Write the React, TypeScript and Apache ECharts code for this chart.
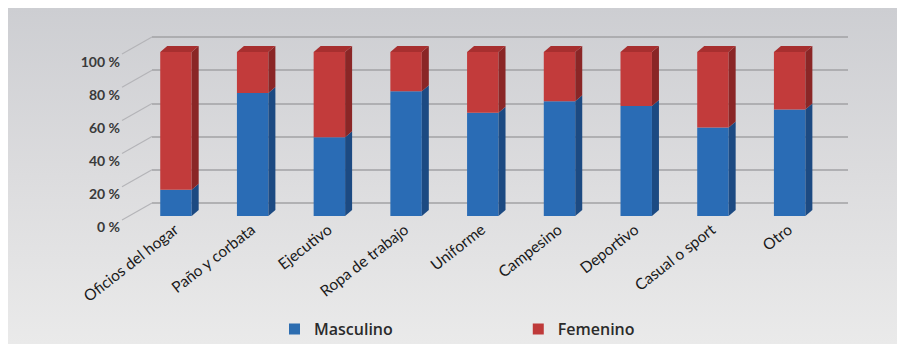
import React, { useEffect, useRef } from "react";
import * as echarts from "echarts";

// Prenda de vestir por sexo (porcentaje)
const categories = [
  "Oficios del hogar",
  "Paño y corbata",
  "Ejecutivo",
  "Ropa de trabajo",
  "Uniforme",
  "Campesino",
  "Deportivo",
  "Casual o sport",
  "Otro",
];
const masculino = [16, 75, 48, 76, 63, 70, 67, 54, 65];
const femenino = [84, 25, 52, 24, 37, 30, 33, 46, 35];
const percentTicks = [0, 20, 40, 60, 80, 100];

// depth of the extruded bars (px)
const DX = 7;
const DY = 6;

const BLUE = { front: "#2a6cb5", side: "#1c4a82", top: "#2f64a3" };
const RED = { front: "#c23b3b", side: "#8a2626", top: "#a72f2f" };

function makeBarRenderer(colors: { front: string; side: string; top: string }, drawTop: boolean) {
  return (params: any, api: any) => {
    const idx = api.value(0);
    const from = api.value(1);
    const to = api.value(2);
    const base = api.coord([idx, from]);
    const top = api.coord([idx, to]);
    const w = api.size([1, 0])[0] * 0.41;
    const xL = base[0] - w / 2;
    const xR = base[0] + w / 2;
    const children: any[] = [
      {
        type: "rect",
        shape: { x: xL, y: top[1], width: w, height: base[1] - top[1] },
        style: { fill: colors.front },
      },
      {
        type: "polygon",
        shape: {
          points: [
            [xR, top[1]],
            [xR + DX, top[1] - DY],
            [xR + DX, base[1] - DY],
            [xR, base[1]],
          ],
        },
        style: { fill: colors.side },
      },
    ];
    if (drawTop) {
      children.push({
        type: "polygon",
        shape: {
          points: [
            [xL, top[1]],
            [xL + DX, top[1] - DY],
            [xR + DX, top[1] - DY],
            [xR, top[1]],
          ],
        },
        style: { fill: colors.top },
      });
    }
    return { type: "group", children };
  };
}

export default function App() {
  const ref = useRef<HTMLDivElement>(null);

  useEffect(() => {
    document.documentElement.style.overflow = "hidden";
    const chart = echarts.init(ref.current!, undefined, { renderer: "svg" });

    const mascData = categories.map((_, i) => [i, 0, masculino[i]]);
    const femData = categories.map((_, i) => [i, masculino[i], masculino[i] + femenino[i]]);
    const wallTicks = percentTicks.map((v) => [0, v]);

    chart.setOption({
      animation: false,
      backgroundColor: new echarts.graphic.LinearGradient(0, 0, 0, 1, [
        { offset: 0, color: "#cdced2" },
        { offset: 0.5, color: "#dcdcde" },
        { offset: 1, color: "#eaeaea" },
      ]),
      legend: {
        data: ["Masculino", "Femenino"],
        left: 276,
        top: 308,
        icon: "rect",
        itemWidth: 11,
        itemHeight: 11,
        itemGap: 140,
        textStyle: {
          fontFamily: "Open Sans",
          fontSize: 16,
          fontWeight: 600,
          color: "#2b2b2b",
          padding: [0, 0, 0, 9],
        },
      },
      grid: [
        // bars (middle depth)
        { left: 129.6, right: 77, top: 44, bottom: 128 },
        // back wall
        { left: 144, right: 57, top: 29, bottom: 141 },
        // front plane carrying the percent labels
        { left: 116, right: 57, top: 53, bottom: 118 },
      ],
      xAxis: [
        {
          gridIndex: 0,
          type: "category",
          data: categories,
          axisLine: { show: false },
          axisTick: { show: false },
          axisLabel: {
            rotate: 38,
            margin: 11,
            interval: 0,
            fontFamily: "Lato",
            fontSize: 15.5,
            color: "#1a1a1a",
          },
        },
        { gridIndex: 1, type: "value", min: 0, max: 1, show: false },
        { gridIndex: 2, type: "value", min: 0, max: 1, show: false },
      ],
      yAxis: [
        { gridIndex: 0, type: "value", min: 0, max: 100, show: false },
        {
          gridIndex: 1,
          type: "value",
          min: 0,
          max: 100,
          interval: 20,
          axisLine: { show: false },
          axisTick: { show: false },
          axisLabel: { show: false },
          splitLine: { lineStyle: { color: "#a2a2a5", width: 1.5 } },
        },
        {
          gridIndex: 2,
          type: "value",
          min: 0,
          max: 100,
          interval: 20,
          axisLine: { show: false },
          axisTick: { show: false },
          splitLine: { show: false },
          axisLabel: {
            margin: 4,
            formatter: "{value} %",
            fontFamily: "Lato",
            fontSize: 14,
            fontWeight: "bold",
            color: "#3a3a3a",
          },
        },
      ],
      series: [
        {
          // slanted floor/wall edges running from the labels to the back wall
          type: "custom",
          xAxisIndex: 1,
          yAxisIndex: 1,
          silent: true,
          data: wallTicks,
          encode: { x: 0, y: 1 },
          renderItem: (params: any, api: any) => {
            const p = api.coord([api.value(0), api.value(1)]);
            return {
              type: "line",
              shape: { x1: p[0] - 30, y1: p[1] + 17, x2: p[0], y2: p[1] },
              style: { stroke: "#b4b4b8", lineWidth: 1.2 },
            };
          },
        },
        {
          name: "Masculino",
          type: "custom",
          xAxisIndex: 0,
          yAxisIndex: 0,
          itemStyle: { color: "#2d6db0" },
          data: mascData,
          encode: { x: 0, y: [1, 2] },
          renderItem: makeBarRenderer(BLUE, false),
        },
        {
          name: "Femenino",
          type: "custom",
          xAxisIndex: 0,
          yAxisIndex: 0,
          itemStyle: { color: "#bf3a3a" },
          data: femData,
          encode: { x: 0, y: [1, 2] },
          renderItem: makeBarRenderer(RED, true),
        },
      ],
    });

    return () => chart.dispose();
  }, []);

  return <div ref={ref} style={{ width: 897, height: 336 }} />;
}
